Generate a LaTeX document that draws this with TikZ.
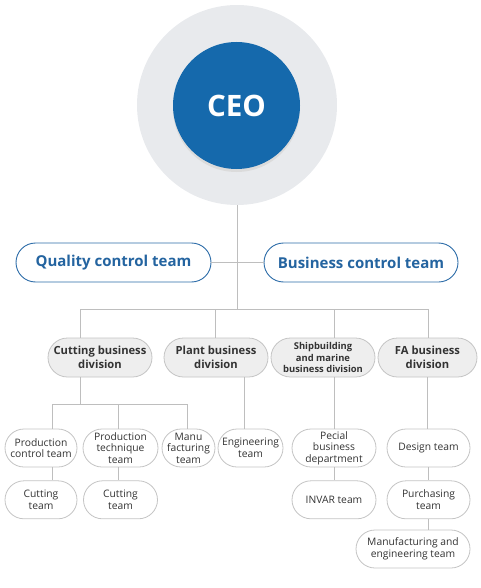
\documentclass[tikz,border=0pt]{standalone}
\usepackage{fontspec}
\setmainfont{Open Sans}
\usetikzlibrary{positioning,calc}

\definecolor{azulceo}{RGB}{21,105,172}
\definecolor{fondoceo}{RGB}{232,234,237}
\definecolor{azulborde}{RGB}{44,108,168}
\definecolor{azultexto}{RGB}{36,100,160}
\definecolor{grisborde}{RGB}{196,196,196}
\definecolor{grisfondo}{RGB}{238,238,238}
\definecolor{grislinea}{RGB}{190,190,190}
\definecolor{gristexto}{RGB}{51,51,51}

\begin{document}
\begin{tikzpicture}[
            x=1pt, y=-1pt,
            control/.style={draw=azulborde, line width=0.9pt, fill=white, rounded corners=19.5pt,
                minimum height=39pt, text=azultexto, font=\fontsize{15}{17}\selectfont\bfseries},
            division/.style={draw=grisborde, line width=0.8pt, fill=grisfondo, rounded corners=19.5pt,
                minimum height=39pt, align=center, text=gristexto, inner sep=1pt,
                font=\fontsize{11.2}{13.5}\selectfont\bfseries},
            equipo/.style={draw=grisborde, line width=0.8pt, fill=white, rounded corners=19pt,
                minimum height=38pt, align=center, text=gristexto, inner sep=1pt,
                font=\fontsize{10.3}{11.5}\selectfont},
            linea/.style={draw=grislinea, line width=0.9pt}
        ]
        \useasboundingbox (0,0) rectangle (480,588);

        % CEO en el centro, con su halo gris
        \node[circle, fill=fondoceo, minimum size=200pt, inner sep=0pt] (halo) at (237,105) {};
        \fill[black!14] (236.5,108.5) circle (63.5pt);
        \node[circle, fill=azulceo, minimum size=127pt, inner sep=0pt, text=white,
            font=\fontsize{29.5}{32}\selectfont\bfseries] (ceo) at (236.5,105.5) {CEO};

        % Equipos de control a ambos lados
        \node[control, minimum width=195pt] (calidad) at (113.5,262.5) {Quality control team};
        \node[control, minimum width=194pt] (negocio) at (361,262.5) {Business control team};

        % Divisiones de negocio
        \node[division, minimum width=104pt] (corte) at (100,357.5) {Cutting business\\division};
        \node[division, minimum width=104pt] (planta) at (216,357.5) {Plant business\\division};
        \node[division, minimum width=104pt, font=\fontsize{9.4}{11.2}\selectfont\bfseries] (naval) at (323,357.5)
        {Shipbuilding\\and marine\\business division};
        \node[division, minimum width=99pt] (fa) at (427.5,357.5) {FA business\\division};

        % Equipos de la division de corte
        \node[equipo, minimum width=72pt] (prodctrl) at (41,448) {Production\\control team};
        \node[equipo, minimum width=75pt] (prodtec) at (120.5,448) {Production\\technique\\team};
        \node[equipo, minimum width=53pt] (manu) at (188.5,448) {Manu\\facturing\\team};
        \node[equipo, minimum width=72pt, below=13pt of prodctrl] (corte1) {Cutting\\team};
        \node[equipo, minimum width=74pt, below=13pt of prodtec] (corte2) {Cutting\\team};

        % Equipo de planta
        \node[equipo, minimum width=65pt] (ingen) at (250.5,448) {Engineering\\team};

        % Equipos naval
        \node[equipo, minimum width=84pt] (pecial) at (334,448) {Pecial\\business\\department};
        \node[equipo, minimum width=84pt, below=13pt of pecial] (invar) {INVAR team};

        % Equipos FA
        \node[equipo, minimum width=83pt] (diseno) at (428.5,448) {Design team};
        \node[equipo, minimum width=83pt, below=13pt of diseno] (compras) {Purchasing\\team};
        \node[equipo, minimum width=114pt] (fabrica) at (413,549) {Manufacturing and\\engineering team};

        % Puntos de union de las lineas
        \coordinate (bus) at (237,309);
        \coordinate (b1) at (80,309);
        \coordinate (b2) at (215.5,309);
        \coordinate (b3) at (334.5,309);
        \coordinate (b4) at (428,309);
        \coordinate (c0) at (80,404);
        \coordinate (c1) at (52,404);
        \coordinate (c2) at (118,404);
        \coordinate (c3) at (187.5,404);
        \coordinate (p1) at (244,404);

        % Lineas principales
        \draw[linea] (halo.south) -- (bus);
        \draw[linea] (calidad.east) -- (negocio.west);
        \draw[linea] (b1) -- (b4);
        \draw[linea] (b1) -- (corte.north -| b1);
        \draw[linea] (b2) -- (planta.north -| b2);
        \draw[linea] (b3) -- (naval.north -| b3);
        \draw[linea] (b4) -- (fa.north -| b4);

        % Lineas de la division de corte
        \draw[linea] (corte.south -| c0) -- (c0);
        \draw[linea] (c1) -- (c3);
        \draw[linea] (c1) -- (prodctrl.north -| c1);
        \draw[linea] (c2) -- (prodtec.north -| c2);
        \draw[linea] (c3) -- (manu.north -| c3);
        \draw[linea] (prodctrl.south -| c1) -- (corte1.north -| c1);
        \draw[linea] (prodtec.south -| c2) -- (corte2.north -| c2);

        % Lineas de las otras divisiones
        \draw[linea] (planta.south -| p1) -- (ingen.north -| p1);
        \draw[linea] (naval.south -| b3) -- (pecial.north -| b3);
        \draw[linea] (pecial.south -| b3) -- (invar.north -| b3);
        \draw[linea] (fa.south) -- (diseno.north -| fa.south);
        \draw[linea] (diseno.south -| b4) -- (compras.north -| b4);
        \draw[linea] (compras.south -| b4) -- (fabrica.north -| b4);

    \end{tikzpicture}
\end{document}
